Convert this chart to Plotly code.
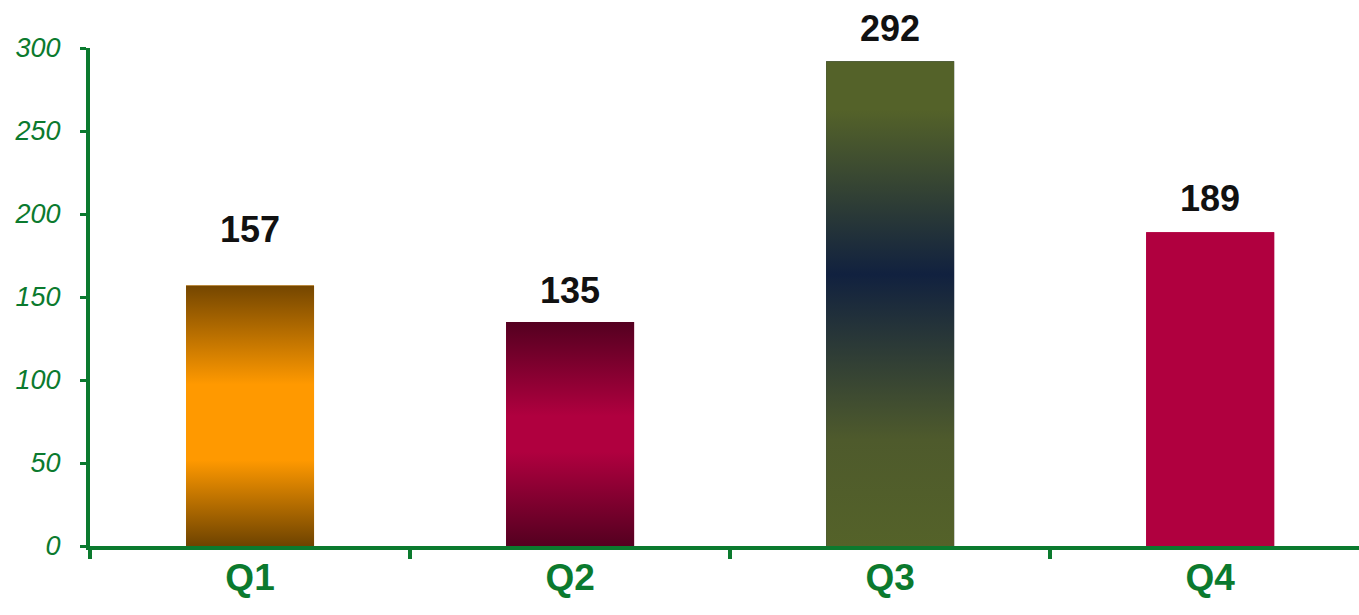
import plotly.graph_objects as go

# Quarterly values
quarters = ["Q1", "Q2", "Q3", "Q4"]
values = [157, 135, 292, 189]

# Vertical gradient per bar (bottom -> top): list of (stop, colour)
gradients = [
    [[0, "#6e4300"], [0.33, "#ff9900"], [0.62, "#ff9900"], [1, "#744600"]],
    [[0, "#540020"], [0.42, "#b0003f"], [0.58, "#b0003f"], [1, "#540020"]],
    [[0, "#546229"], [0.22, "#4e5a2c"], [0.56, "#11213f"], [0.9, "#546229"], [1, "#546229"]],
    [[0, "#b0003f"], [1, "#b0003f"]],
]
solid_colors = ["#ff9900", "#b0003f", "#11213f", "#b0003f"]

# Extra vertical lift (px) of each value label above its bar
label_lift = [33, 9, 10, 11]

y_ticks = [0, 50, 100, 150, 200, 250, 300]

GREEN = "#0b7a2e"
BAR_WIDTH = 0.4
FONT = "Liberation Sans, Arial, sans-serif"

fig = go.Figure()

positions = list(range(len(quarters)))
fig.add_trace(go.Bar(
    x=positions,
    y=values,
    width=BAR_WIDTH,
    marker=dict(color=solid_colors, line=dict(width=0)),
    hoverinfo="skip",
    showlegend=False,
))

# Gradient fills drawn over the bars from the same values
for i, (v, scale) in enumerate(zip(values, gradients)):
    x0, x1 = i - BAR_WIDTH / 2, i + BAR_WIDTH / 2
    fig.add_trace(go.Scatter(
        x=[x0, x1, x1, x0, x0],
        y=[0, 0, v, v, 0],
        mode="lines",
        line=dict(width=0),
        fill="toself",
        fillgradient=dict(type="vertical", colorscale=scale),
        hoverinfo="skip",
        showlegend=False,
    ))

# Value labels above the bars
for i, (v, lift) in enumerate(zip(values, label_lift)):
    fig.add_annotation(
        x=i, y=v, text=str(v), showarrow=False,
        xanchor="center", yanchor="bottom", yshift=lift,
        font=dict(family=FONT, size=36, color="#111111", weight="bold"),
    )

fig.update_layout(
    width=1359,
    height=615,
    margin=dict(l=90, r=0, t=48, b=69),
    plot_bgcolor="white",
    paper_bgcolor="white",
    xaxis=dict(
        range=[-0.5, 3.465],
        tickmode="array",
        tickvals=positions,
        ticktext=quarters,
        ticks="",
        ticklabelstandoff=-4,
        tickfont=dict(family=FONT, size=37, color=GREEN, weight="bold"),
        showline=True,
        linecolor=GREEN,
        linewidth=4,
        showgrid=False,
        zeroline=False,
        minor=dict(
            tickmode="array",
            tickvals=[-0.5, 0.5, 1.5, 2.5],
            ticks="outside",
            ticklen=9,
            tickwidth=4,
            tickcolor=GREEN,
            showgrid=False,
        ),
        fixedrange=True,
    ),
    yaxis=dict(
        range=[0, 300],
        tickmode="array",
        tickvals=y_ticks,
        ticks="outside",
        ticklen=6,
        tickwidth=3,
        tickcolor=GREEN,
        ticklabelstandoff=14,
        tickfont=dict(family=FONT, size=27, color=GREEN, style="italic"),
        showline=True,
        linecolor=GREEN,
        linewidth=4,
        showgrid=False,
        zeroline=False,
        fixedrange=True,
    ),
)

fig.write_html("out.html")
